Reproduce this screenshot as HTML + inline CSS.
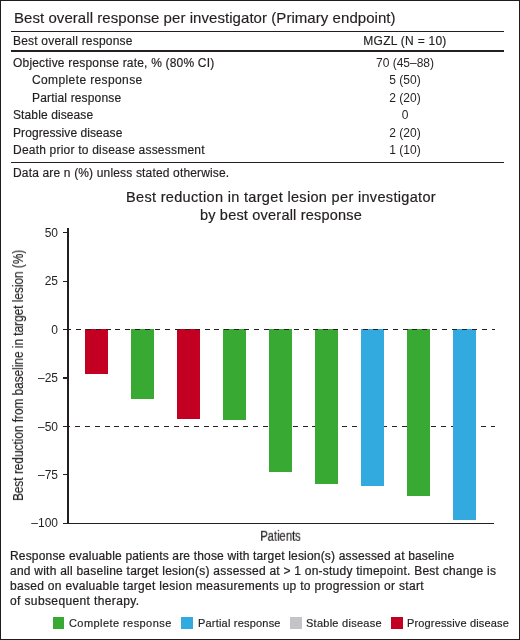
<!DOCTYPE html>
<html><head><meta charset="utf-8"><style>
html,body{margin:0;padding:0;background:#fff;}
#pg{position:relative;width:520px;height:640px;overflow:hidden;background:#fff;font-family:"Liberation Sans", sans-serif;color:#231f20;}
#bd{position:absolute;left:0;top:0;width:518px;height:638px;border:1px solid #1c1c1c;z-index:5;}
.t{position:absolute;white-space:pre;z-index:2;will-change:transform;-webkit-text-stroke:0.18px #231f20;}
.r{position:absolute;}
.dash{position:absolute;height:1.6px;z-index:3;background:repeating-linear-gradient(90deg,#231f20 0 5px,transparent 5px 9.9px);}
</style></head><body><div id="pg">
<div id="bd"></div>
<div class="t" style="left:14.00px;top:9.80px;font-size:15px;line-height:15px;letter-spacing:0.055px;-webkit-text-stroke:0.15px #231f20;">Best overall response per investigator (Primary endpoint)</div>
<div class="r" style="left:10.50px;top:30.50px;width:493.00px;height:1.40px;background:#231f20;"></div>
<div class="t" style="left:12.90px;top:35.40px;font-size:12px;line-height:12px;letter-spacing:0.200px;">Best overall response</div>
<div class="t" style="left:204.80px;width:400px;text-align:center;top:35.40px;font-size:12px;line-height:12px;letter-spacing:0.260px;">MGZL (N = 10)</div>
<div class="r" style="left:10.50px;top:50.20px;width:493.00px;height:1.40px;background:#231f20;"></div>
<div class="t" style="left:13.10px;top:56.60px;font-size:12px;line-height:12px;letter-spacing:0.190px;">Objective response rate, % (80% CI)</div>
<div class="t" style="left:205.20px;width:400px;text-align:center;top:56.60px;font-size:12px;line-height:12px;-webkit-text-stroke:0;">70 (45–88)</div>
<div class="t" style="left:31.50px;top:74.16px;font-size:12px;line-height:12px;letter-spacing:0.385px;">Complete response</div>
<div class="t" style="left:205.20px;width:400px;text-align:center;top:74.16px;font-size:12px;line-height:12px;-webkit-text-stroke:0;">5 (50)</div>
<div class="t" style="left:31.50px;top:91.72px;font-size:12px;line-height:12px;letter-spacing:0.160px;">Partial response</div>
<div class="t" style="left:205.20px;width:400px;text-align:center;top:91.72px;font-size:12px;line-height:12px;-webkit-text-stroke:0;">2 (20)</div>
<div class="t" style="left:13.10px;top:109.28px;font-size:12px;line-height:12px;letter-spacing:0.110px;">Stable disease</div>
<div class="t" style="left:205.20px;width:400px;text-align:center;top:109.28px;font-size:12px;line-height:12px;-webkit-text-stroke:0;">0</div>
<div class="t" style="left:13.10px;top:126.84px;font-size:12px;line-height:12px;letter-spacing:0.070px;">Progressive disease</div>
<div class="t" style="left:205.20px;width:400px;text-align:center;top:126.84px;font-size:12px;line-height:12px;-webkit-text-stroke:0;">2 (20)</div>
<div class="t" style="left:13.10px;top:144.40px;font-size:12px;line-height:12px;letter-spacing:0.210px;">Death prior to disease assessment</div>
<div class="t" style="left:205.20px;width:400px;text-align:center;top:144.40px;font-size:12px;line-height:12px;-webkit-text-stroke:0;">1 (10)</div>
<div class="r" style="left:10.50px;top:161.60px;width:493.00px;height:1.40px;background:#231f20;"></div>
<div class="t" style="left:13.20px;top:166.90px;font-size:12px;line-height:12px;letter-spacing:0.160px;">Data are n (%) unless stated otherwise.</div>
<div class="t" style="left:80.70px;width:400px;text-align:center;top:189.63px;font-size:14.5px;line-height:14.5px;letter-spacing:0.330px;-webkit-text-stroke:0.2px #231f20;">Best reduction in target lesion per investigator</div>
<div class="t" style="left:80.70px;width:400px;text-align:center;top:207.73px;font-size:14.5px;line-height:14.5px;letter-spacing:0.210px;-webkit-text-stroke:0.2px #231f20;">by best overall response</div>
<div class="r" style="left:67.20px;top:228.30px;width:1.50px;height:295.80px;background:#231f20;"></div>
<div class="r" style="left:67.20px;top:522.80px;width:427.10px;height:1.60px;background:#231f20;"></div>
<div class="r" style="left:63.40px;top:232.10px;width:3.80px;height:1.40px;background:#231f20;"></div>
<div class="t" style="left:-141.80px;width:200px;text-align:right;top:226.90px;font-size:12px;line-height:12px;-webkit-text-stroke:0;">50</div>
<div class="r" style="left:63.40px;top:280.50px;width:3.80px;height:1.40px;background:#231f20;"></div>
<div class="t" style="left:-141.80px;width:200px;text-align:right;top:275.30px;font-size:12px;line-height:12px;-webkit-text-stroke:0;">25</div>
<div class="r" style="left:63.40px;top:328.90px;width:3.80px;height:1.40px;background:#231f20;"></div>
<div class="t" style="left:-141.80px;width:200px;text-align:right;top:323.70px;font-size:12px;line-height:12px;-webkit-text-stroke:0;">0</div>
<div class="r" style="left:63.40px;top:377.30px;width:3.80px;height:1.40px;background:#231f20;"></div>
<div class="t" style="left:-141.80px;width:200px;text-align:right;top:372.10px;font-size:12px;line-height:12px;-webkit-text-stroke:0;">–25</div>
<div class="r" style="left:63.40px;top:425.70px;width:3.80px;height:1.40px;background:#231f20;"></div>
<div class="t" style="left:-141.80px;width:200px;text-align:right;top:420.50px;font-size:12px;line-height:12px;-webkit-text-stroke:0;">–50</div>
<div class="r" style="left:63.40px;top:474.10px;width:3.80px;height:1.40px;background:#231f20;"></div>
<div class="t" style="left:-141.80px;width:200px;text-align:right;top:468.90px;font-size:12px;line-height:12px;-webkit-text-stroke:0;">–75</div>
<div class="r" style="left:63.40px;top:522.50px;width:3.80px;height:1.40px;background:#231f20;"></div>
<div class="t" style="left:-141.80px;width:200px;text-align:right;top:517.30px;font-size:12px;line-height:12px;-webkit-text-stroke:0;">–100</div>
<div class="dash" style="left:66.3px;top:328.80px;width:428.30px;z-index:3;"></div>
<div class="dash" style="left:65.4px;top:425.60px;width:429.20px;z-index:0;"></div>
<div class="r" style="left:85.40px;top:328.90px;width:22.70px;height:44.84px;background:#c40022;z-index:1;"></div>
<div class="r" style="left:131.36px;top:328.90px;width:22.70px;height:69.62px;background:#38aa34;z-index:1;"></div>
<div class="r" style="left:177.32px;top:328.90px;width:22.70px;height:90.53px;background:#c40022;z-index:1;"></div>
<div class="r" style="left:223.28px;top:328.90px;width:22.70px;height:91.11px;background:#38aa34;z-index:1;"></div>
<div class="r" style="left:269.24px;top:328.90px;width:22.70px;height:143.00px;background:#38aa34;z-index:1;"></div>
<div class="r" style="left:315.20px;top:328.90px;width:22.70px;height:155.39px;background:#38aa34;z-index:1;"></div>
<div class="r" style="left:361.16px;top:328.90px;width:22.70px;height:156.74px;background:#32aae0;z-index:1;"></div>
<div class="r" style="left:407.12px;top:328.90px;width:22.70px;height:167.39px;background:#38aa34;z-index:1;"></div>
<div class="r" style="left:453.08px;top:328.90px;width:22.70px;height:190.62px;background:#32aae0;z-index:1;"></div>
<div class="t" style="left:0;top:0;font-size:14px;line-height:14px;white-space:pre;transform-origin:0 0;transform:translate(23px,501px) rotate(-90deg) scaleX(0.843) translate(0,-12.00px);">Best reduction from baseline in target lesion (%)</div>
<div class="t" style="left:0;top:0;font-size:14px;line-height:14px;transform-origin:0 0;transform:translate(260.3px,528.80px) scaleX(0.8);">Patients</div>
<div class="t" style="left:10.00px;top:549.80px;font-size:12px;line-height:12px;letter-spacing:0.175px;-webkit-text-stroke:0.24px #231f20;">Response evaluable patients are those with target lesion(s) assessed at baseline</div>
<div class="t" style="left:10.00px;top:564.70px;font-size:12px;line-height:12px;letter-spacing:0.235px;-webkit-text-stroke:0.24px #231f20;">and with all baseline target lesion(s) assessed at &gt; 1 on-study timepoint. Best change is</div>
<div class="t" style="left:10.00px;top:579.60px;font-size:12px;line-height:12px;letter-spacing:0.300px;-webkit-text-stroke:0.24px #231f20;">based on evaluable target lesion measurements up to progression or start</div>
<div class="t" style="left:10.00px;top:594.50px;font-size:12px;line-height:12px;letter-spacing:0.380px;-webkit-text-stroke:0.24px #231f20;">of subsequent therapy.</div>
<div class="r" style="left:53.10px;top:617.20px;width:11.40px;height:11.40px;background:#38aa34;"></div>
<div class="t" style="left:69.00px;top:617.60px;font-size:11px;line-height:11px;letter-spacing:0.430px;">Complete response</div>
<div class="r" style="left:181.20px;top:617.20px;width:11.40px;height:11.40px;background:#32aae0;"></div>
<div class="t" style="left:197.70px;top:617.60px;font-size:11px;line-height:11px;letter-spacing:0.200px;">Partial response</div>
<div class="r" style="left:290.20px;top:617.20px;width:11.40px;height:11.40px;background:#c3c3c8;"></div>
<div class="t" style="left:306.10px;top:617.60px;font-size:11px;line-height:11px;letter-spacing:0.260px;">Stable disease</div>
<div class="r" style="left:391.20px;top:617.20px;width:11.40px;height:11.40px;background:#c40022;"></div>
<div class="t" style="left:407.40px;top:617.60px;font-size:11px;line-height:11px;letter-spacing:0.150px;">Progressive disease</div>
</div></body></html>
